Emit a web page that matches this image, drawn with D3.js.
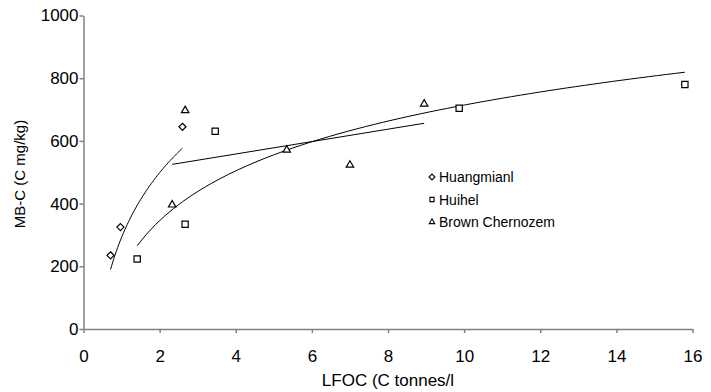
<!DOCTYPE html>
<html>
<head>
<meta charset="utf-8">
<script src="https://cdn.jsdelivr.net/npm/d3@7"></script>
<style>
  body { margin: 0; background: #fff; }
  svg { display: block; font-family: "Liberation Sans", Arial, sans-serif; }
</style>
</head>
<body>
<div id="chart-area"></div>
<script>
// data
var huangX = [0.71, 0.97, 2.6];
var huangY = [235, 325, 645];
var huiX = [1.41, 2.67, 3.46, 9.87, 15.8];
var huiY = [223, 334, 631, 704, 780];
var brownX = [2.33, 2.67, 5.34, 7.0, 8.95];
var brownY = [396, 697, 571, 523, 718];

// trend lines: [a, b, xmin, xmax]
var huangFit = [298, 292, 0.71, 2.6];   // log: a*ln(x)+b
var huiFit = [229, 187, 1.41, 15.8];    // log: a*ln(x)+b
var brownFit = [19.8, 479, 2.33, 8.95]; // linear: a*x+b

var xTicks = [0, 2, 4, 6, 8, 10, 12, 14, 16];
var yTicks = [0, 200, 400, 600, 800, 1000];
var names = ["Huangmianl", "Huihel", "Brown Chernozem"];

var width = 711, height = 392;

var svg = d3.select("#chart-area").append("svg")
    .attr("width", width)
    .attr("height", height);

var x = d3.scaleLinear().domain([0, 16]).range([83.5, 692.5]);
var y = d3.scaleLinear().domain([0, 1000]).range([329, 15.5]);

// axes
var xAxis = svg.append("g")
    .attr("transform", "translate(0,329)")
    .call(d3.axisBottom(x).tickValues(xTicks).tickFormat(d3.format("d"))
        .tickSize(4).tickSizeOuter(0).tickPadding(29));
var yAxis = svg.append("g")
    .attr("transform", "translate(83.5,0)")
    .call(d3.axisLeft(y).tickValues(yTicks).tickFormat(d3.format("d"))
        .tickSize(4).tickSizeOuter(0).tickPadding(1));

[xAxis, yAxis].forEach(function(g) {
    g.select(".domain").attr("stroke", "#808080").attr("stroke-width", 1.5);
    g.selectAll(".tick line").attr("stroke", "#808080").attr("stroke-width", 1.5);
    g.selectAll(".tick text").attr("fill", "#000").attr("font-size", "17px")
        .attr("font-family", "Liberation Sans, Arial, sans-serif");
});
xAxis.selectAll(".tick text").attr("dy", "0");

// axis titles
svg.append("text")
    .attr("x", 388).attr("y", 386)
    .attr("text-anchor", "middle")
    .attr("font-size", "17px")
    .text("LFOC (C tonnes/l");

svg.append("text")
    .attr("transform", "translate(25,174) rotate(-90)")
    .attr("text-anchor", "middle")
    .attr("font-size", "15px")
    .text("MB-C (C mg/kg)");

// trend lines
function logCurve(f) {
    return d3.range(0, 61).map(function(i) {
        var xv = f[2] + (f[3] - f[2]) * i / 60;
        return [xv, f[0] * Math.log(xv) + f[1]];
    });
}
var line = d3.line().x(function(d) { return x(d[0]); }).y(function(d) { return y(d[1]); });

svg.append("path").datum(logCurve(huangFit)).attr("d", line)
    .attr("fill", "none").attr("stroke", "#000").attr("stroke-width", 1);
svg.append("path").datum(logCurve(huiFit)).attr("d", line)
    .attr("fill", "none").attr("stroke", "#000").attr("stroke-width", 1);
svg.append("path")
    .datum([[brownFit[2], brownFit[0] * brownFit[2] + brownFit[1]],
            [brownFit[3], brownFit[0] * brownFit[3] + brownFit[1]]])
    .attr("d", line)
    .attr("fill", "none").attr("stroke", "#000").attr("stroke-width", 1);

// markers
var symbols = [d3.symbolDiamond2, d3.symbolSquare2, d3.symbolTriangle2];
var sizes = [32, 50, 40];
var series = [
    d3.zip(huangX, huangY),
    d3.zip(huiX, huiY),
    d3.zip(brownX, brownY)
];

series.forEach(function(pts, k) {
    svg.selectAll(".s" + k)
        .data(pts)
        .enter()
        .append("path")
        .attr("class", "s" + k)
        .attr("transform", function(d) { return "translate(" + x(d[0]) + "," + y(d[1]) + ")"; })
        .attr("d", d3.symbol().type(symbols[k]).size(sizes[k]))
        .attr("fill", "#fff")
        .attr("stroke", "#000")
        .attr("stroke-width", 1.2);
});

// legend
var legend = svg.selectAll(".legend")
    .data(names)
    .enter()
    .append("g")
    .attr("transform", function(d, i) { return "translate(432," + (177 + 22.5 * i) + ")"; });

legend.append("path")
    .attr("d", function(d, i) { return d3.symbol().type(symbols[i]).size(22)(); })
    .attr("fill", "#fff")
    .attr("stroke", "#000")
    .attr("stroke-width", 1.1);

legend.append("text")
    .attr("x", 7)
    .attr("y", 5)
    .attr("font-size", "14px")
    .text(function(d) { return d; });
</script>
</body>
</html>
